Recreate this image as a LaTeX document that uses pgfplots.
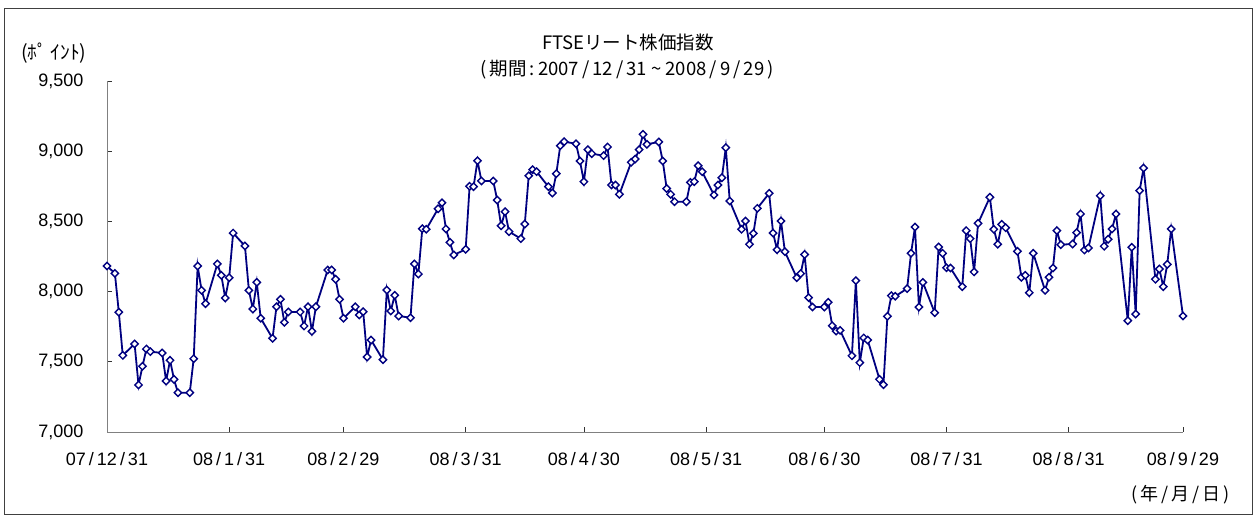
\documentclass[border=0pt]{standalone}
\usepackage{pgfplots}
\pgfplotsset{compat=1.18}
\usepackage{pgfplotstable}
\usepackage{fontspec}
\setmainfont{Liberation Sans}
\newfontfamily\jp{Noto Sans CJK JP}
\definecolor{navy}{RGB}{0,0,128}
\definecolor{axgray}{RGB}{128,128,128}
\pgfplotstableread{
day value
0 8182
2 8130
3 7853
4 7546
7 7627
8 7335
9 7468
10 7591
11 7572
14 7563
15 7363
16 7511
17 7375
18 7280
21 7280
22 7522
23 8182
24 8009
25 7914
28 8197
29 8116
30 7954
31 8099
32 8417
35 8325
36 8009
37 7876
38 8066
39 7810
42 7667
43 7892
44 7945
45 7781
46 7855
49 7855
50 7755
51 7892
52 7717
53 7892
56 8154
57 8154
58 8088
59 7945
60 7810
63 7892
64 7833
65 7857
66 7534
67 7655
70 7515
71 8011
72 7862
73 7974
74 7826
77 7814
78 8197
79 8125
80 8448
81 8444
84 8590
85 8633
86 8446
87 8351
88 8261
91 8301
92 8750
93 8747
94 8932
95 8788
98 8788
99 8652
100 8469
101 8569
102 8427
105 8377
106 8481
107 8825
108 8868
109 8854
112 8747
113 8702
114 8840
115 9039
116 9068
119 9053
120 8930
121 8783
122 9011
123 8982
126 8968
127 9030
128 8759
129 8759
130 8693
133 8921
134 8944
135 9011
136 9120
137 9049
140 9066
141 8930
142 8734
143 8693
144 8640
147 8640
148 8778
149 8783
150 8897
151 8854
154 8688
155 8759
156 8811
157 9025
158 8645
161 8444
162 8503
163 8337
164 8415
165 8593
168 8700
169 8417
170 8298
171 8503
172 8284
175 8099
176 8128
177 8264
178 7957
179 7890
182 7890
183 7924
184 7757
185 7719
186 7724
189 7543
190 8078
191 7494
192 7670
193 7655
196 7375
197 7337
198 7824
199 7971
200 7967
203 8021
204 8273
205 8460
206 7890
207 8066
210 7850
211 8318
212 8273
213 8170
214 8168
217 8035
218 8434
219 8377
220 8140
221 8486
224 8672
225 8444
226 8337
227 8479
228 8455
231 8287
232 8102
233 8116
234 7992
235 8273
238 8009
239 8102
240 8168
241 8434
242 8334
245 8339
246 8420
247 8553
248 8296
249 8311
252 8683
253 8323
254 8373
255 8446
256 8553
259 7793
260 8316
261 7840
262 8719
263 8880
266 8088
267 8161
268 8035
269 8194
270 8446
273 7826
}\reitdata
\begin{document}
\begin{tikzpicture}[x=1pt,y=1pt]
\useasboundingbox (0,0) rectangle (1257,518);
\draw[line width=1pt, black!75] (4,3) rectangle (1252,509);
\begin{axis}[
  at={(107pt,86pt)}, anchor=south west,
  scale only axis, width=1076pt, height=351pt,
  xmin=0, xmax=273, ymin=7000, ymax=9500,
  axis x line=bottom, axis y line=left,
  axis line style={-, axgray, line width=0.9pt},
  tick align=inside, major tick length=5pt,
  tick style={black!80, line width=0.8pt},
  xtick={0,31,60,91,121,152,182,213,244,273},
  xticklabels={07\,/\,12\,/\,31, 08\,/\,1\,/\,31, 08\,/\,2\,/\,29, 08\,/\,3\,/\,31, 08\,/\,4\,/\,30, 08\,/\,5\,/\,31, 08\,/\,6\,/\,30, 08\,/\,7\,/\,31, 08\,/\,8\,/\,31, 08\,/\,9\,/\,29},
  ytick={7000,7500,8000,8500,9000,9500},
  yticklabels={{7,000},{7,500},{8,000},{8,500},{9,000},{9,500}},
  ticklabel style={font=\fontsize{18}{20}\selectfont, text=black},
  xticklabel style={yshift=-17pt},
  yticklabel style={xshift=-20pt},
  clip=false,
]
\addplot[navy, line width=1.8pt, mark=square*, mark size=2.6pt,
  mark options={rotate=45, fill=white, line width=1.4pt}] table[x=day, y=value] {\reitdata};
\end{axis}
\node[font=\jp\fontsize{18.5}{20}\selectfont] at (628,476) {FTSEリート株価指数};
\node[font=\jp\fontsize{18.5}{20}\selectfont] at (627,448.5) {(\,期間\,:\,2007\,/\,12\,/\,31 \textasciitilde{} 2008\,/\,9\,/\,29\,)};
\node[font=\jp\fontsize{19.5}{20}\selectfont, anchor=west, inner sep=0pt] at (21,465) {(ﾎﾟ\,ｲﾝﾄ)};
\node[font=\jp\fontsize{18}{20}\selectfont, anchor=east, inner sep=0pt] at (1230,23) {(\,年\,/\,月\,/\,日\,)};
\end{tikzpicture}
\end{document}
